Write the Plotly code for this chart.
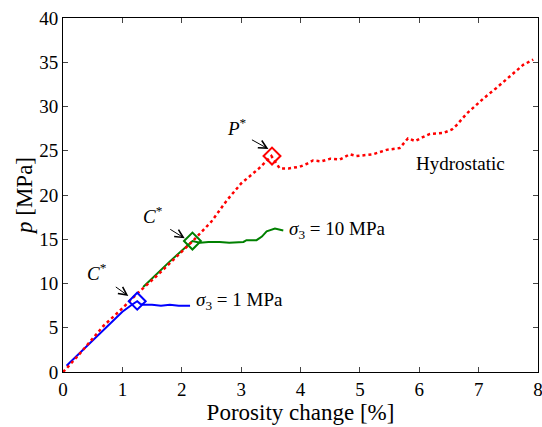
import plotly.graph_objects as go

hyd_x = [0, 0.06, 0.3, 0.68, 1.0, 1.24, 1.6, 2.0, 2.2, 2.5, 2.76, 3.0, 3.3, 3.51, 3.65, 3.8, 3.99, 4.1, 4.21, 4.35, 4.5, 4.66, 4.83, 4.94, 5.1, 5.22, 5.45, 5.67, 5.81, 5.93, 6.05, 6.18, 6.40, 6.55, 6.63, 6.80, 6.95, 7.08, 7.30, 7.53, 7.75, 7.92]
hyd_y = [0, 0.4, 2.2, 5.2, 7.2, 8.8, 11.0, 13.6, 14.9, 17.0, 19.4, 21.3, 23.0, 24.4, 23.0, 23.0, 23.2, 23.5, 23.9, 23.8, 24.1, 24.0, 24.6, 24.4, 24.5, 24.6, 25.1, 25.3, 26.4, 26.1, 26.5, 26.9, 27.0, 27.4, 27.9, 29.2, 30.1, 30.9, 32.1, 33.4, 34.7, 35.3]

s1_x = [0.06, 0.5, 0.68, 1.0, 1.16, 1.25, 1.3, 1.35, 1.5, 1.65, 1.8, 1.95, 2.14]
s1_y = [0.7, 3.6, 4.8, 6.8, 7.6, 8.0, 7.7, 7.6, 7.6, 7.5, 7.6, 7.5, 7.5]

s10_x = [1.35, 1.8, 2.18, 2.31, 2.45, 2.64, 2.8, 3.04, 3.09, 3.26, 3.35, 3.43, 3.57, 3.71]
s10_y = [9.6, 12.5, 14.8, 14.6, 14.7, 14.7, 14.6, 14.7, 14.9, 14.9, 15.3, 15.9, 16.2, 16.0]

crit_x = [1.25, 2.18, 3.52]
crit_y = [8.0, 14.8, 24.4]
crit_col = ["#0000ff", "#008000", "#ff0000"]

x_ticks = [0, 1, 2, 3, 4, 5, 6, 7, 8]
y_ticks = [0, 5, 10, 15, 20, 25, 30, 35, 40]

FONT = "Liberation Serif"

fig = go.Figure()
fig.add_trace(go.Scatter(x=s1_x, y=s1_y, mode="lines", line=dict(color="#0000ff", width=2)))
fig.add_trace(go.Scatter(x=s10_x, y=s10_y, mode="lines", line=dict(color="#008000", width=2)))
fig.add_trace(go.Scatter(x=hyd_x, y=hyd_y, mode="lines", line=dict(color="#ff0000", width=2.5, dash="dot")))
for cx, cy, cc in zip(crit_x, crit_y, crit_col):
    fig.add_trace(go.Scatter(x=[cx], y=[cy], mode="markers",
                             marker=dict(symbol="diamond-open", size=13, color=cc, line=dict(width=2, color=cc))))

ann = []
txt = dict(font=dict(family=FONT, size=19, color="black"), showarrow=False)
ann.append(dict(x=0.57, y=11.3, text="<i>C</i><sup>*</sup>", **txt))
ann.append(dict(x=1.52, y=17.7, text="<i>C</i><sup>*</sup>", **txt))
ann.append(dict(x=2.93, y=27.7, text="<i>P</i><sup>*</sup>", **txt))
ann.append(dict(x=6.7, y=23.6, text="Hydrostatic", **txt))
ann.append(dict(x=3.77, y=16.0, text="<i>σ</i><sub>3</sub> = 10 MPa", xanchor="left", **txt))
ann.append(dict(x=2.2, y=8.0, text="<i>σ</i><sub>3</sub> = 1 MPa", xanchor="left", **txt))
for hx, hy, dx, dy in [(1.10, 8.6, -14, -10), (2.05, 15.1, -16, -10), (3.46, 25.2, -18, -10)]:
    ann.append(dict(x=hx, y=hy, ax=dx, ay=dy, text="", showarrow=True, arrowhead=5,
                    arrowsize=1.6, arrowwidth=1, arrowcolor="black", standoff=0))

fig.update_layout(
    width=542, height=427, showlegend=False,
    paper_bgcolor="white", plot_bgcolor="white",
    margin=dict(l=63, r=4, t=18, b=55, autoexpand=False),
    font=dict(family=FONT, size=19, color="black"),
    annotations=ann,
)
fig.update_xaxes(range=[0, 8], tickvals=x_ticks, ticks="inside", ticklen=5, showline=True, linecolor="black",
                 linewidth=1, mirror="ticks", showgrid=False, zeroline=False, ticklabeloverflow="allow",
                 automargin=False,
                 title=dict(text="Porosity change [%]", standoff=0), tickfont=dict(size=19))
fig.update_yaxes(range=[0, 40], tickvals=y_ticks, ticks="inside", ticklen=5, showline=True, linecolor="black",
                 linewidth=1, mirror="ticks", showgrid=False, zeroline=False, ticklabeloverflow="allow",
                 automargin=False,
                 title=dict(text="<i>p</i> [MPa]", standoff=0), tickfont=dict(size=19))
fig.write_html("out.html")
